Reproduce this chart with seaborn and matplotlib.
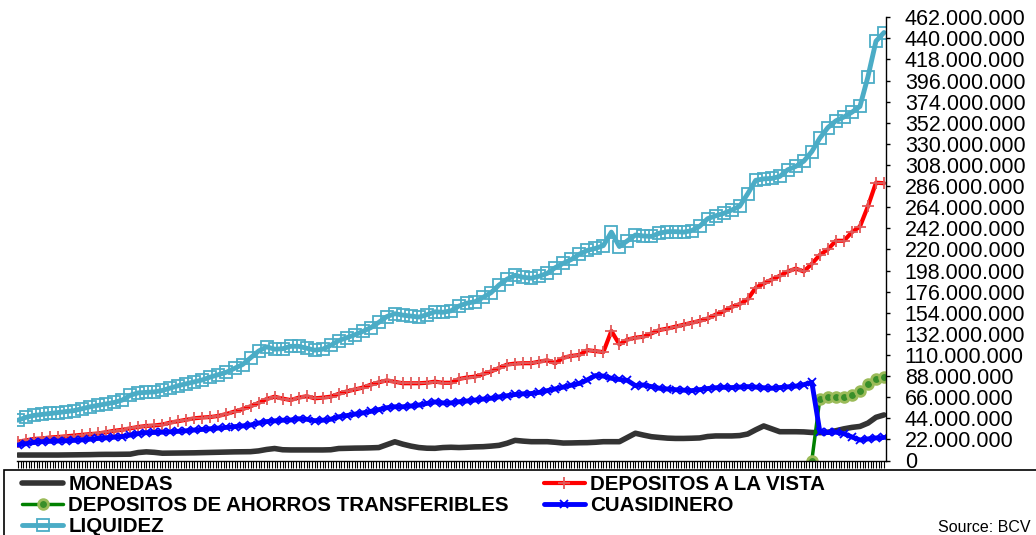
import numpy as np
import pandas as pd
import matplotlib
matplotlib.use("Agg")
import matplotlib.pyplot as plt
import seaborn as sns
from matplotlib.ticker import FuncFormatter, AutoMinorLocator
from matplotlib.patches import Rectangle

# values in millions
monedas = [5.7, 5.7, 5.7, 5.7, 5.7, 5.7, 5.8, 5.9, 6.0, 6.1, 6.3, 6.4, 6.4, 6.5, 6.6, 8.3, 9.0, 8.5, 7.6, 7.7,
           7.8, 7.9, 8.0, 8.2, 8.4, 8.6, 8.8, 9.0, 9.1, 9.2, 10.0, 11.5, 12.5, 11.2, 11.0, 11.0, 11.0, 11.0, 11.0, 11.2,
           12.5, 12.7, 12.9, 13.0, 13.2, 13.5, 16.5, 19.5, 17.0, 15.0, 13.5, 12.8, 12.7, 13.5, 13.8, 13.5, 13.8, 14.2, 14.4, 15.0,
           15.8, 18.0, 21.0, 20.2, 19.6, 19.6, 19.6, 19.0, 18.2, 18.3, 18.5, 18.6, 19.0, 19.6, 19.6, 19.6, 24.0, 28.4, 26.5, 24.8,
           24.0, 23.3, 23.0, 23.0, 23.2, 23.5, 25.0, 25.6, 25.6, 25.6, 26.0, 27.6, 32.0, 36.0, 33.0, 30.0, 30.0, 30.0, 29.8, 29.2,
           29.0, 29.5, 31.0, 33.0, 34.5, 35.5, 39.0, 45.0, 47.5]

depositos_vista = [19.6, 21.0, 22.5, 23.0, 24.0, 24.5, 25.2, 26.0, 26.8, 27.5, 28.2, 29.5, 31.0, 32.0, 33.5, 35.0, 36.0, 36.5, 37.5, 39.5,
                   41.0, 42.5, 44.0, 44.8, 45.3, 46.5, 48.5, 51.0, 53.5, 56.5, 60.0, 64.0, 66.5, 64.5, 63.0, 65.5, 67.0, 64.8, 65.5, 66.5,
                   69.5, 72.0, 74.0, 76.0, 79.0, 81.5, 83.5, 82.0, 80.5, 80.5, 80.5, 81.0, 82.2, 81.0, 81.0, 85.0, 86.5, 87.4, 90.0, 92.8,
                   96.5, 100.0, 101.0, 101.4, 101.4, 103.0, 104.5, 101.4, 107.0, 109.0, 110.0, 115.0, 114.0, 113.0, 135.0, 121.0, 126.0, 128.0, 129.0, 132.5,
                   136.0, 137.5, 139.5, 141.5, 143.5, 145.5, 148.0, 152.0, 155.5, 160.0, 163.0, 168.0, 180.0, 184.5, 188.5, 192.5, 197.0, 200.0, 197.0, 205.0,
                   214.3, 220.0, 229.0, 229.0, 238.0, 243.8, 265.0, 289.5, 289.0]

ahorros_transf = [np.nan] * 99 + [0.0, 64.5, 66.0, 66.5, 66.5, 68.5, 72.5, 80.0, 84.5, 87.0]

cuasidinero = [16.2, 17.5, 18.8, 19.6, 20.0, 20.3, 20.6, 21.0, 21.5, 22.2, 23.0, 23.6, 24.3, 25.0, 26.5, 28.0, 29.0, 29.2, 29.5, 30.0,
               30.4, 31.0, 31.8, 32.4, 33.1, 33.8, 34.5, 35.3, 36.0, 37.0, 39.0, 40.5, 41.3, 42.0, 42.2, 43.5, 43.0, 41.5, 42.0, 43.0,
               45.5, 46.8, 48.3, 49.6, 51.2, 53.0, 55.0, 56.0, 56.0, 56.8, 57.8, 59.5, 61.0, 60.0, 60.0, 61.2, 62.0, 63.0, 64.0, 64.9,
               66.3, 67.5, 68.8, 69.5, 69.8, 71.0, 72.8, 74.6, 76.5, 78.5, 80.3, 84.0, 88.5, 88.0, 85.7, 84.5, 83.5, 78.0, 78.7, 77.0,
               75.3, 74.5, 73.8, 73.3, 72.8, 73.8, 75.0, 75.8, 76.3, 76.0, 76.5, 77.0, 76.5, 75.8, 75.3, 76.0, 76.8, 77.5, 79.0, 81.5,
               30.0, 29.2, 29.5, 28.0, 24.5, 21.4, 22.5, 23.5, 24.0]

liquidez = [42.0, 45.0, 47.0, 48.0, 49.0, 50.0, 51.0, 52.0, 54.0, 56.0, 57.5, 59.0, 60.5, 63.0, 68.0, 70.5, 71.0, 71.5, 73.0, 75.5,
            78.0, 80.0, 82.0, 84.0, 87.0, 89.5, 92.0, 96.0, 100.0, 107.0, 114.0, 118.5, 116.0, 116.5, 119.0, 119.0, 117.0, 115.0, 116.0, 120.0,
            125.0, 128.0, 131.0, 134.5, 138.5, 144.0, 150.0, 153.0, 151.5, 150.5, 149.5, 152.0, 155.0, 154.5, 156.0, 161.0, 164.0, 165.5, 170.0, 175.0,
            183.0, 189.0, 193.0, 191.0, 190.0, 192.0, 195.0, 201.0, 205.5, 209.5, 215.0, 219.0, 221.0, 224.0, 238.0, 223.0, 229.0, 235.0, 234.0, 233.5,
            237.0, 238.5, 238.5, 238.0, 239.5, 244.0, 252.0, 255.0, 257.5, 261.0, 265.0, 278.0, 292.0, 293.5, 294.0, 296.0, 303.0, 306.5, 312.0, 322.0,
            336.0, 347.0, 354.0, 358.0, 363.0, 369.0, 400.0, 437.0, 446.0]

y_ticks = list(range(0, 463, 22))
source_text = "Source: BCV"

sns.set_style("white")
plt.rcParams['font.family'] = ['Liberation Sans', 'DejaVu Sans']
plt.rcParams['text.color'] = 'black'
plt.rcParams['legend.labelcolor'] = 'black'

W, H = 1036, 535
fig = plt.figure(figsize=(W / 100, H / 100), dpi=100)
ax = fig.add_axes([17 / W, (H - 460.5) / H, (886 - 17) / W, (460.5 - 17.2) / H])

idx = np.arange(len(monedas))
df = pd.DataFrame({
    "idx": idx,
    "MONEDAS": monedas,
    "DEPOSITOS A LA VISTA": depositos_vista,
    "DEPOSITOS DE AHORROS TRANSFERIBLES": ahorros_transf,
    "CUASIDINERO": cuasidinero,
    "LIQUIDEZ": liquidez,
})

sns.lineplot(data=df, x="idx", y="MONEDAS", ax=ax, color="#333333", lw=4,
             label="MONEDAS")
sns.lineplot(data=df, x="idx", y="DEPOSITOS A LA VISTA", ax=ax, color="#FF0000", lw=3,
             marker="+", ms=8, mew=1.3, mec="#E05A5A", label="DEPOSITOS A LA VISTA")
sns.lineplot(data=df, x="idx", y="DEPOSITOS DE AHORROS TRANSFERIBLES", ax=ax, color="#008000", lw=2.5,
             marker="o", ms=7, mew=2, mec="#9BBB59", mfc="#3A8F2A", label="DEPOSITOS DE AHORROS TRANSFERIBLES")
sns.lineplot(data=df, x="idx", y="CUASIDINERO", ax=ax, color="#0000FF", lw=3.5,
             marker="x", ms=6, mew=1.3, mec="#0000FF", label="CUASIDINERO")
sns.lineplot(data=df, x="idx", y="LIQUIDEZ", ax=ax, color="#4BACC6", lw=3.5,
             marker="s", ms=8, mew=1.3, mec="#4BACC6", mfc="none", label="LIQUIDEZ")

ax.set_xlabel("")
ax.set_ylabel("")
ax.set_ylim(0, 462)
ax.set_xlim(-0.125, len(monedas) - 1 + 0.25)

ax.yaxis.tick_right()
ax.set_yticks(y_ticks)
ax.yaxis.set_major_formatter(FuncFormatter(
    lambda v, p: "0" if v == 0 else f"{int(round(v)) * 1000000:,}".replace(",", ".")))
ax.tick_params(axis="y", which="major", right=True, left=False, direction="out",
               length=3, width=1, pad=10.5, labelsize=15.5, colors="black")

ax.set_xticks(idx)
ax.set_xticklabels([])
ax.xaxis.set_minor_locator(AutoMinorLocator(3))
ax.tick_params(axis="x", which="both", bottom=True, direction="out", length=5, width=0.8, color="black")

for s in ["left", "top"]:
    ax.spines[s].set_visible(False)
for s in ["right", "bottom"]:
    ax.spines[s].set_visible(True)
    ax.spines[s].set_color("black")
    ax.spines[s].set_linewidth(1)

handles, labels = ax.get_legend_handles_labels()
if ax.get_legend() is not None:
    ax.get_legend().remove()
order = ["MONEDAS", "DEPOSITOS DE AHORROS TRANSFERIBLES", "LIQUIDEZ", "DEPOSITOS A LA VISTA", "CUASIDINERO"]
hmap = dict(zip(labels, handles))
fig.legend([hmap[o] for o in order], order, ncol=2, frameon=False,
           prop={"weight": "bold", "size": 14.8}, handlelength=2.0, handletextpad=0.25,
           columnspacing=1.7, labelspacing=0.1, borderpad=0, borderaxespad=0,
           labelcolor="black",
           loc="upper left", bbox_to_anchor=(22 / W, (H - 475) / H))

fig.add_artist(Rectangle((4 / W, -0.05), 1.2, (H - 470) / H + 0.05, transform=fig.transFigure,
                         fill=False, ec="black", lw=1.2, clip_on=False))

fig.text(1030 / W, (H - 527) / H, source_text, ha="right", va="center", fontsize=11.5, color="black")

fig.savefig("out.png", dpi=100)
